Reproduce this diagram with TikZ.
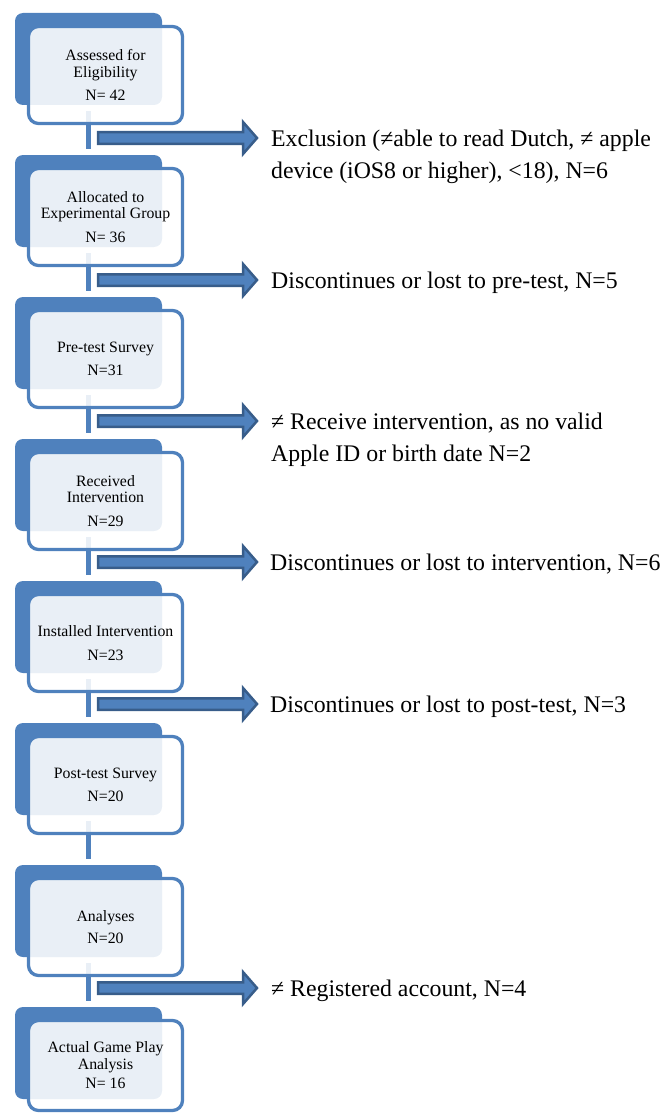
\documentclass[tikz,border=0pt]{standalone}
\usepackage{fontspec}
\setmainfont{Liberation Serif}
\usepackage{tikz}
\usetikzlibrary{calc}
\definecolor{officeblue}{HTML}{4F81BD}
\definecolor{darkblue}{HTML}{385D8A}

\tikzset{
  backbox/.style={fill=officeblue, rounded corners=8pt, minimum width=147pt, minimum height=92pt, inner sep=0pt},
  frontbox/.style={draw=officeblue, line width=3.3pt, fill=white, fill opacity=0.88, text opacity=1,
    rounded corners=10pt, minimum width=154pt, minimum height=97pt, inner sep=0pt, align=center,
    font=\fontsize{15.8}{16.5}\selectfont},
  link/.style={draw=officeblue, line width=5pt, shorten <=6pt, shorten >=6pt},
  blockarrow/.style={fill=officeblue, draw=darkblue, line width=2.5pt, line join=miter},
  sidetext/.style={anchor=base west, inner sep=0pt, align=left, font=\fontsize{23.8}{32}\selectfont}
}

\begin{document}
\begin{tikzpicture}[x=1pt, y=-1pt]
      \useasboundingbox (0,0) rectangle (671,1113);

      % back plates
      \node[backbox] (assessB) at (88.5,59) {};
      \node[backbox] (allocB) at (88.5,201) {};
      \node[backbox] (pretestB) at (88.5,343) {};
      \node[backbox] (receivedB) at (88.5,485) {};
      \node[backbox] (installedB) at (88.5,627) {};
      \node[backbox] (posttestB) at (88.5,769) {};
      \node[backbox] (analysesB) at (88.5,911) {};
      \node[backbox] (gameplayB) at (88.5,1053) {};

      % vertical links
      \draw[link] (assessB) -- (allocB);
      \draw[link] (allocB) -- (pretestB);
      \draw[link] (pretestB) -- (receivedB);
      \draw[link] (receivedB) -- (installedB);
      \draw[link] (installedB) -- (posttestB);
      \draw[link] (posttestB) -- (analysesB);
      \draw[link] (analysesB) -- (gameplayB);

      % block arrows
      \foreach \y in {138,280,421,562,704,988}
        \draw[blockarrow] (98,\y-5.75) -- (243,\y-5.75) -- (243,\y-16) -- (257,\y)
          -- (243,\y+16) -- (243,\y+5.75) -- (98,\y+5.75) -- cycle;

      % front boxes
      \node[frontbox] (assess) at (105.5,75) {Assessed for\\Eligibility\\[7pt]N= 42};
      \node[frontbox] (alloc) at (105.5,217) {Allocated to\\Experimental Group\\[7pt]N= 36};
      \node[frontbox] (pretest) at (105.5,359) {Pre-test Survey\\[7pt]N=31};
      \node[frontbox] (received) at (105.5,501) {Received\\Intervention\\[7pt]N=29};
      \node[frontbox] (installed) at (105.5,643) {Installed Intervention\\[7pt]N=23};
      \node[frontbox] (posttest) at (105.5,785) {Post-test Survey\\[7pt]N=20};
      \node[frontbox] (analyses) at (105.5,927) {Analyses\\[5pt]N=20};
      \node[frontbox, minimum height=90pt] (gameplay) at (105.5,1065.5) {Actual Game Play\\Analysis\\[3pt]N= 16};

      % side labels
      \node[sidetext] (exclusion) at (271,178.5) {Exclusion (≠able to read Dutch, ≠ apple\\device (iOS8 or higher), <18), N=6};
      \node[sidetext] (lostpre) at (271,288.5) {Discontinues or lost to pre-test, N=5};
      \node[sidetext] (noid) at (271,461.5) {≠ Receive intervention, as no valid\\Apple ID or birth date N=2};
      \node[sidetext] (lostint) at (270,570.5) {Discontinues or lost to intervention, N=6};
      \node[sidetext] (lostpost) at (270,712.5) {Discontinues or lost to post-test, N=3};
      \node[sidetext] (noaccount) at (271,996.5) {≠ Registered account, N=4};
    \end{tikzpicture}
\end{document}
